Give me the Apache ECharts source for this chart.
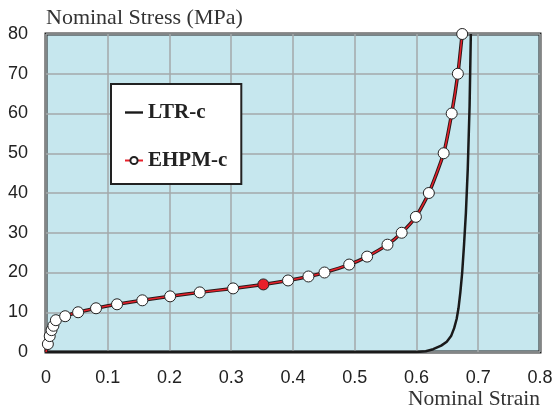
<!DOCTYPE html>
<html>
<head>
<meta charset="utf-8">
<script src="https://cdn.jsdelivr.net/npm/echarts@6/dist/echarts.min.js"></script>
<style>
  html, body { margin: 0; padding: 0; background: #fff; }
  #chart { width: 553px; height: 409px; }
</style>
</head>
<body>
<div id="chart"></div>
<script>
// LTR-c curve
const ltrStrain = [0, 0.6, 0.615, 0.627, 0.64, 0.649, 0.656, 0.661, 0.665, 0.668, 0.671, 0.674, 0.677, 0.68, 0.683, 0.686, 0.688];
const ltrStress = [0, 0, 0.2, 0.7, 1.6, 2.6, 4, 6, 8.3, 11, 15, 20, 27, 35, 46, 62, 80];

// EHPM-c points (first one is the origin, drawn without a marker)
const ehpmStrain = [0, 0.003, 0.006, 0.009, 0.012, 0.016, 0.031, 0.052, 0.081, 0.115, 0.156, 0.201, 0.249, 0.303, 0.352, 0.392, 0.425, 0.451, 0.491, 0.520, 0.553, 0.576, 0.599, 0.620, 0.644, 0.657, 0.667, 0.674];
const ehpmStress = [0, 2, 4, 5.5, 6.6, 8, 9, 10, 11, 12, 13, 14, 15, 16, 17, 18, 19, 20, 22, 24, 27, 30, 34, 40, 50, 60, 70, 80];
const highlightIndex = 14; // the red filled marker

const xTicks = ['0', '0.1', '0.2', '0.3', '0.4', '0.5', '0.6', '0.7', '0.8'];

const ltrData = ltrStrain.map((x, i) => [x, ltrStress[i]]);
const ehpmData = ehpmStrain.map((x, i) => {
  const item = { value: [x, ehpmStress[i]] };
  if (i === 0) item.symbol = 'none';
  if (i === highlightIndex) item.itemStyle = { color: '#e8202a' };
  return item;
});

const chart = echarts.init(document.getElementById('chart'));
chart.setOption({
  animation: false,
  // x axis name sits under the right end of the axis
  title: {
    text: 'Nominal Strain',
    right: 13,
    top: 388,
    padding: 0,
    textStyle: {
      fontFamily: 'Liberation Serif',
      fontWeight: 'normal',
      fontSize: 21.5,
      color: '#333'
    }
  },
  grid: {
    left: 46, right: 13, top: 34, bottom: 57,
    outerBoundsMode: 'none',
    containLabel: false,
    show: true,
    backgroundColor: '#c6e7ee',
    borderColor: '#222',
    borderWidth: 3
  },
  legend: {
    left: 111, top: 84,
    orient: 'vertical',
    data: [
      { name: 'LTR-c', icon: 'path://M0,0 L18,0 L18,2.4 L0,2.4 Z' },
      { name: 'EHPM-c' }
    ],
    backgroundColor: '#fff',
    borderColor: '#222',
    borderWidth: 2,
    borderRadius: 0,
    padding: [18, 14, 13, 13],
    itemGap: 27,
    itemWidth: 18,
    itemHeight: 9,
    textStyle: {
      fontFamily: 'Liberation Serif',
      fontWeight: 'bold',
      fontSize: 21,
      color: '#222'
    }
  },
  xAxis: {
    type: 'value',
    min: 0, max: 0.8, interval: 0.1,
    axisLine: { show: false },
    axisTick: { show: false },
    axisLabel: {
      margin: 17,
      fontFamily: 'Liberation Sans',
      fontSize: 18,
      color: '#222',
      formatter: (v) => xTicks[Math.round(v * 10)]
    },
    splitLine: { lineStyle: { color: '#a3a8aa', width: 1.5 } }
  },
  yAxis: {
    type: 'value',
    min: 0, max: 80, interval: 10,
    name: 'Nominal Stress (MPa)',
    nameLocation: 'end',
    nameGap: 5,
    nameTextStyle: {
      fontFamily: 'Liberation Serif',
      fontSize: 22,
      color: '#333',
      align: 'left'
    },
    axisLine: { show: false },
    axisTick: { show: false },
    axisLabel: {
      margin: 18,
      fontFamily: 'Liberation Sans',
      fontSize: 18,
      color: '#222'
    },
    splitLine: { lineStyle: { color: '#a3a8aa', width: 1.5 } }
  },
  series: [
    {
      name: 'LTR-c',
      type: 'line',
      data: ltrData,
      symbol: 'none',
      lineStyle: { color: '#1a1a1a', width: 2.5 },
      itemStyle: { color: '#1a1a1a' },
      z: 3
    },
    {
      name: 'EHPM-c outline',
      type: 'line',
      data: ehpmStrain.map((x, i) => [x, ehpmStress[i]]),
      smooth: 0.2,
      symbol: 'none',
      lineStyle: { color: '#2a1a1a', width: 3.5 },
      silent: true,
      z: 4
    },
    {
      name: 'EHPM-c',
      type: 'line',
      data: ehpmData,
      smooth: 0.2,
      symbol: 'circle',
      symbolSize: 11,
      clip: false,
      lineStyle: { color: '#e8202a', width: 1.5 },
      itemStyle: { color: '#fff', borderColor: '#222', borderWidth: 1 },
      z: 5
    }
  ]
});
</script>
</body>
</html>
